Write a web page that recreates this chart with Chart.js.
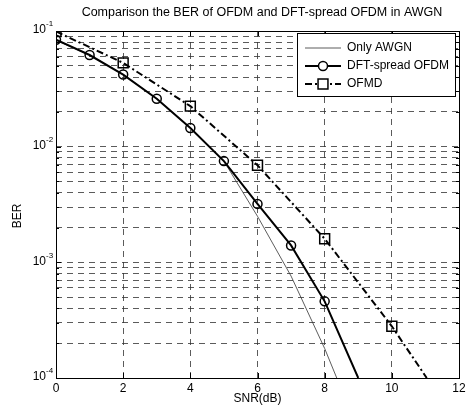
<!DOCTYPE html>
<html lang="en">
<head>
  <meta charset="UTF-8" />
  <title>BER of OFDM and DFT-spread OFDM in AWGN</title>
  <style>
    body { margin: 0; background: #fff; }
    canvas { display: block; }
  </style>
  <script src="https://cdn.jsdelivr.net/npm/chart.js"></script>
</head>
<body>
  <canvas id="berChart" width="472" height="413"></canvas>
  <script>
    // values
    const awgnSnr = [0, 1, 2, 3, 4, 5, 6, 7, 8, 8.36];
    const awgnBer = [0.083, 0.062, 0.042, 0.026, 0.0145, 0.0075, 0.0025, 0.00076, 0.00018, 0.0001];

    const dftSnr = [0, 1, 2, 3, 4, 5, 6, 7, 8, 9];
    const dftBer = [0.084, 0.062, 0.042, 0.026, 0.0145, 0.0075, 0.0032, 0.0014, 0.00046, 0.0001];

    const ofdmSnr = [0, 2, 4, 6, 8, 10, 11.04];
    const ofdmBer = [0.099, 0.053, 0.0224, 0.0069, 0.0016, 0.00028, 0.0001];

    const xTicks = [0, 2, 4, 6, 8, 10, 12];
    const yExponents = [-4, -3, -2, -1];

    const FONT = '"Liberation Sans", Arial, sans-serif';

    function toPoints(xs, ys) {
      return xs.map((x, i) => ({ x: x, y: ys[i] }));
    }

    // log ticks 1..9 in every decade, like MATLAB's minor grid
    function logTicks() {
      const ticks = [];
      for (const e of yExponents) {
        for (let m = 1; m <= 9; m++) {
          if (e === -1 && m > 1) break;
          ticks.push({ value: m * Math.pow(10, e), major: m === 1 });
        }
      }
      return ticks;
    }

    const matlabAxes = {
      id: 'matlabAxes',
      afterDatasetsDraw(chart) {
        const ctx = chart.ctx;
        const { left, right, top, bottom } = chart.chartArea;
        const xs = chart.scales.x, ys = chart.scales.y;
        ctx.save();
        ctx.strokeStyle = '#000';
        ctx.lineWidth = 1;
        ctx.setLineDash([]);
        ctx.beginPath();
        // inward tick marks
        xs.ticks.forEach(t => {
          const px = Math.round(xs.getPixelForValue(t.value)) + 0.5;
          ctx.moveTo(px, bottom); ctx.lineTo(px, bottom - 5);
          ctx.moveTo(px, top); ctx.lineTo(px, top + 5);
        });
        ys.ticks.forEach(t => {
          const py = Math.round(ys.getPixelForValue(t.value)) + 0.5;
          const len = t.major ? 5 : 3;
          ctx.moveTo(left, py); ctx.lineTo(left + len, py);
          ctx.moveTo(right, py); ctx.lineTo(right - len, py);
        });
        ctx.stroke();
        ctx.strokeRect(Math.round(left) + 0.5, Math.round(top) + 0.5, Math.round(right - left), Math.round(bottom - top));
        ctx.restore();
      },
      afterDraw(chart) {
        const ctx = chart.ctx;
        const { left, right } = chart.chartArea;
        const ys = chart.scales.y;
        ctx.save();
        ctx.fillStyle = '#000';

        // title
        ctx.font = '12.5px ' + FONT;
        ctx.textAlign = 'center';
        ctx.textBaseline = 'middle';
        ctx.fillText('Comparison the BER of OFDM and DFT-spread OFDM in AWGN', 262, 13);

        // axis labels
        ctx.font = '12px ' + FONT;
        ctx.fillText('SNR(dB)', (left + right) / 2, 399);
        ctx.save();
        ctx.translate(18, 216);
        ctx.rotate(-Math.PI / 2);
        ctx.fillText('BER', 0, 0);
        ctx.restore();

        // y tick labels 10^n
        yExponents.forEach(e => {
          const py = ys.getPixelForValue(Math.pow(10, e));
          ctx.font = '12px ' + FONT;
          ctx.textAlign = 'right';
          ctx.textBaseline = 'middle';
          ctx.fillText('10', 46, py - 1);
          ctx.font = '8px ' + FONT;
          ctx.textAlign = 'left';
          ctx.fillText(String(e), 46, py - 7);
        });

        // legend
        const bx = 297, by = 33, bw = 158, bh = 63;
        ctx.fillStyle = '#fff';
        ctx.fillRect(bx, by, bw, bh);
        ctx.strokeStyle = '#000';
        ctx.lineWidth = 1;
        ctx.strokeRect(bx + 0.5, by + 0.5, bw, bh);
        const rows = [48, 66, 84];
        chart.data.datasets.forEach((ds, i) => {
          const y = rows[i];
          ctx.strokeStyle = ds.borderColor;
          ctx.lineWidth = ds.borderWidth;
          ctx.setLineDash(ds.borderDash || []);
          ctx.beginPath();
          ctx.moveTo(305, y);
          ctx.lineTo(341, y);
          ctx.stroke();
          ctx.setLineDash([]);
          if (ds.legendRadius) {
            ctx.strokeStyle = '#000';
            ctx.lineWidth = 1.5;
            ctx.fillStyle = '#fff';
            Chart.helpers.drawPoint(ctx, {
              pointStyle: ds.pointStyle, rotation: 0, radius: ds.legendRadius, borderWidth: 1.5
            }, 323, y);
          }
          ctx.fillStyle = '#000';
          ctx.font = '12px ' + FONT;
          ctx.textAlign = 'left';
          ctx.textBaseline = 'middle';
          ctx.fillText(ds.label, 347, y);
        });
        ctx.restore();
      }
    };

    const gridColor = 'rgba(50, 50, 50, 0.8)';

    new Chart(document.getElementById('berChart'), {
      type: 'line',
      data: {
        datasets: [
          {
            label: 'Only AWGN',
            data: toPoints(awgnSnr, awgnBer),
            borderColor: '#333',
            borderWidth: 0.8,
            pointRadius: 0,
            order: 3
          },
          {
            label: 'DFT-spread OFDM',
            data: toPoints(dftSnr, dftBer),
            borderColor: '#000',
            borderWidth: 2,
            pointStyle: 'circle',
            pointRadius: dftSnr.map((x, i) => i < 9 ? 4.5 : 0),
            pointBorderWidth: 1.5,
            pointBorderColor: '#000',
            pointBackgroundColor: 'rgba(0,0,0,0)',
            legendRadius: 4.5,
            order: 2
          },
          {
            label: 'OFMD',
            data: toPoints(ofdmSnr, ofdmBer),
            borderColor: '#000',
            borderWidth: 2,
            borderDash: [7, 3, 2, 3],
            pointStyle: 'rect',
            pointRadius: ofdmSnr.map((x, i) => i < 6 ? 7 : 0),
            pointBorderWidth: 1.5,
            pointBorderColor: '#000',
            pointBackgroundColor: 'rgba(0,0,0,0)',
            legendRadius: 7,
            order: 1
          }
        ]
      },
      options: {
        responsive: false,
        animation: false,
        layout: { padding: { top: 31, right: 13, bottom: 0, left: 0 } },
        plugins: {
          legend: { display: false },
          title: { display: false },
          tooltip: { enabled: false }
        },
        scales: {
          x: {
            type: 'linear',
            min: 0,
            max: 12,
            afterBuildTicks: scale => { scale.ticks = xTicks.map(v => ({ value: v })); },
            afterFit: scale => { scale.height = 35; },
            ticks: { color: '#000', font: { family: FONT, size: 12 }, padding: 3 },
            grid: { color: gridColor, lineWidth: 1, drawTicks: false },
            border: { display: false, dash: [6, 5] }
          },
          y: {
            type: 'logarithmic',
            min: 1e-4,
            max: 1e-1,
            afterBuildTicks: scale => { scale.ticks = logTicks(); },
            afterFit: scale => { scale.width = 56; },
            ticks: { display: false },
            grid: { color: gridColor, lineWidth: 1, drawTicks: false },
            border: { display: false, dash: [6, 5] }
          }
        }
      },
      plugins: [matlabAxes]
    });
  </script>
</body>
</html>
